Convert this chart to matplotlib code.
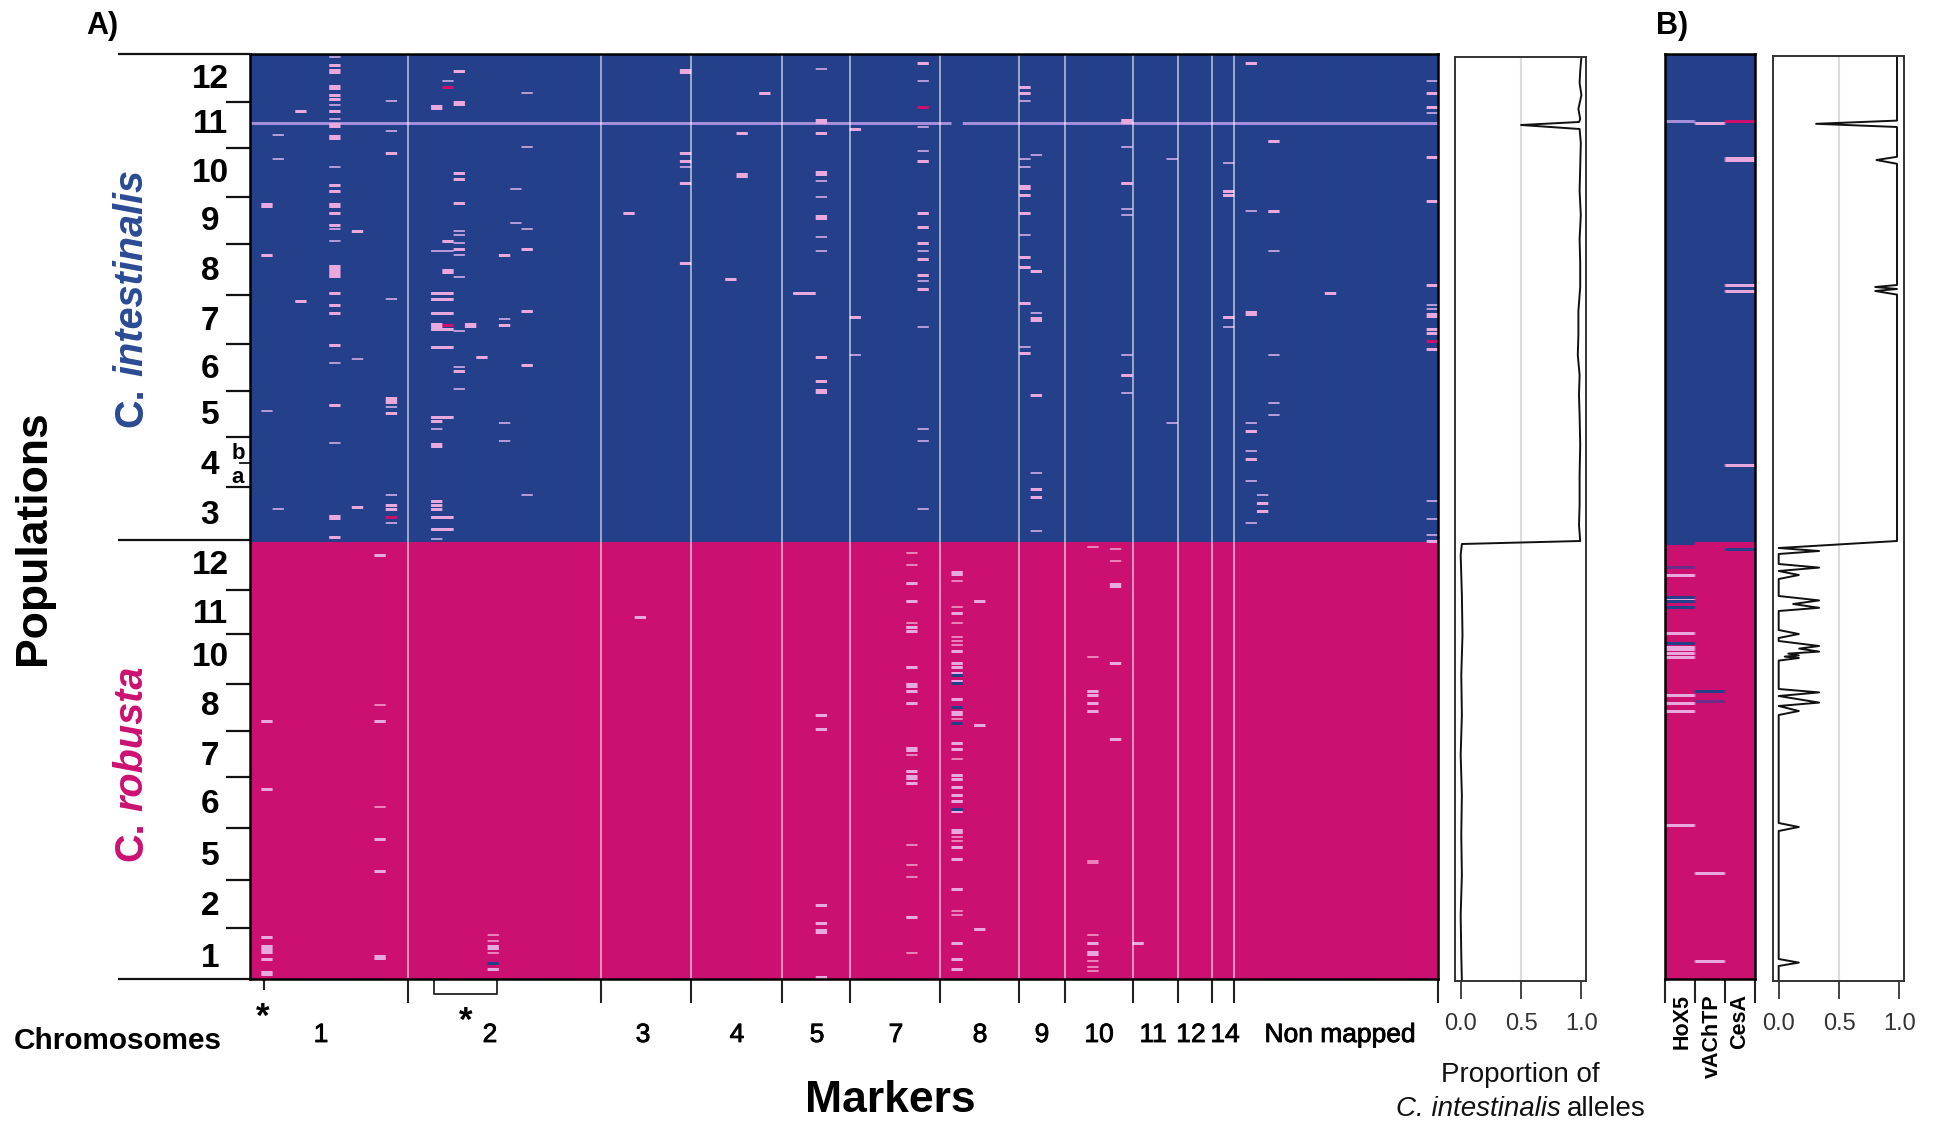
import numpy as np
import matplotlib
matplotlib.use('Agg')
import matplotlib.pyplot as plt
import matplotlib.patheffects as pe
from matplotlib.colors import ListedColormap
from matplotlib.transforms import blended_transform_factory

plt.rcParams['font.family'] = ['Liberation Sans', 'DejaVu Sans']

W, H = 1936, 1121
N_ROWS = 463
N_COLS = 105
BOUNDARY = 244

# row numbers of the individuals (0 = top), keyed by marker column
het_thin = {
    1: [178], 2: [40, 52, 227], 7: [1, 25, 32, 56, 87, 93, 154, 194], 9: [152],
    12: [23, 38, 122, 176, 220, 234], 16: [98, 187, 242], 17: [13, 98],
    18: [88, 90, 94, 100, 111, 138, 156, 167], 22: [132, 184, 193], 23: [67, 84],
    24: [19, 46, 87, 220], 38: [56], 50: [7, 63, 71, 91, 98], 53: [150],
    59: [13, 36, 48, 98, 113, 136, 187, 193, 227], 68: [23, 52, 56, 90, 146],
    69: [50, 129, 209, 238], 77: [46, 77, 80, 150, 169], 81: [52, 184],
    86: [54, 136], 88: [78, 184, 198, 213, 234], 89: [220], 90: [98, 150, 174, 180],
    104: [13, 29, 125, 127, 223, 232, 240],
    11: [325, 376], 21: [440, 443, 449], 58: [249, 255, 284, 350, 395, 405, 411, 449],
    62: [263, 276, 284, 291, 293, 295, 332, 352, 391, 393, 428, 430],
    74: [246, 301, 403, 404, 440, 453, 456, 458], 76: [247, 253],
}
het_mid = {
    1: [100, 333, 367, 441, 452], 4: [28, 123],
    7: [5, 20, 22, 28, 65, 68, 79, 85, 119, 125, 129, 145, 175, 241],
    9: [88, 226], 12: [49, 179, 225, 227], 16: [119, 122, 129, 135, 137, 146, 181, 183, 223, 225, 227, 231, 237],
    17: [93, 119, 122, 129, 137, 146, 181, 231, 237], 18: [8, 59, 62, 74, 97, 158],
    20: [151], 22: [100, 135], 24: [97, 128, 155], 33: [79],
    38: [49, 53, 64, 104], 42: [112], 43: [39], 45: [19], 48: [119], 49: [119],
    50: [39, 151, 163, 330, 337, 425, 434, 461], 53: [37, 131],
    59: [4, 53, 79, 86, 94, 102, 110, 117], 68: [16, 19, 70, 79, 101, 106, 124, 149],
    69: [108, 170, 217, 221], 77: [64, 160], 86: [68, 70, 131], 88: [4, 188, 202],
    89: [224, 228], 90: [43, 78], 95: [119], 104: [19, 26, 51, 73, 115, 137, 139, 147, 243],
    11: [250, 333, 392, 408], 21: [457], 34: [281],
    58: [264, 273, 286, 288, 306, 318, 324, 358, 361, 364, 431],
    62: [279, 298, 304, 306, 309, 313, 322, 344, 347, 360, 362, 366, 370, 373, 378, 396, 402, 417, 444, 452, 457],
    64: [273, 335, 437], 74: [318, 320, 324, 328, 444], 76: [304, 342], 78: [444],
}
het_wide = {
    1: [75, 446, 448, 459], 7: [8, 16, 35, 41, 75, 106, 108, 110, 231],
    12: [172, 173], 16: [26, 135, 195], 17: [108], 18: [24], 19: [135],
    38: [8], 43: [60], 50: [33, 59, 81, 168, 438], 68: [66],
    69: [132], 77: [33], 88: [129], 104: [130],
    11: [451], 21: [446], 58: [315, 347, 361], 62: [259, 329, 388], 74: [449], 76: [265],
}
wrong_magenta = {12: [231], 17: [135, 16], 59: [26], 104: [143]}
wrong_blue = {21: [454], 62: [310, 314, 326, 334, 377]}
cross_row = 34
cross_gap_cols = [62]

chrom_bounds = [14, 31, 39, 47, 53, 61, 68, 72, 78, 82, 85, 87, 105]
chrom_names = ['1', '2', '3', '4', '5', '7', '8', '9', '10', '11', '12', '14', 'Non mapped']
chrom_label_px = [321, 490, 643, 737, 817, 896, 980, 1042, 1099, 1153, 1191, 1225, 1340]

pop_ticks = [23.5, 46.5, 71, 94.5, 120, 144.5, 168, 191, 216,
             268, 290, 314.7, 338.5, 361.5, 387, 413, 437]
species_ticks = [-0.5, 242.6, 462.5]
pop_names = ['12', '11', '10', '9', '8', '7', '6', '5', '4', '3',
             '12', '11', '10', '8', '7', '6', '5', '2', '1']
pop_centres = [12.2, 35, 59.1, 83.3, 108.6, 133.3, 157.3, 180.6, 205.6, 230.3,
               255.7, 280.2, 301.5, 326, 351.1, 375, 401.3, 426.3, 452.3]

# proportion of intestinalis alleles, all mapped markers
prop_a_rows = [1, 8, 14, 20, 27, 32, 33.5, 35, 37, 44, 56, 68, 80, 92, 104, 116, 128, 140, 150,
               160, 170, 180, 195, 210, 225, 235, 243, 244.5, 250, 270, 290, 310, 330, 350,
               370, 390, 410, 430, 450, 463]
prop_a_vals = [1.0, 0.99, 0.985, 1.0, 0.975, 0.99, 0.98, 0.5, 0.985, 0.995, 0.99, 0.985, 0.995, 0.985,
               0.99, 0.99, 0.975, 0.975, 0.97, 0.985, 0.98, 0.985, 0.99, 0.985, 0.985, 0.98, 0.99,
               0.01, 0.0, 0.01, 0.015, 0.005, 0.01, 0.0, 0.01, 0.005, 0.01, 0.0, 0.005, 0.01]

# proportion, three candidate genes
prop_b_rows = [1, 32.8, 34.4, 36, 50.9, 52.5, 54.4, 115, 116, 117, 118, 119.8, 243, 246.5, 248, 249.5,
               254.5, 256.3, 258, 260, 262, 270.5, 272.7, 274.5, 276.4, 278, 287.5, 289.5, 291.5,
               293, 295.5, 296.8, 298.3, 299.3, 300.2, 300.8, 301.5, 302.8, 317, 318.7, 320.5, 323.8,
               325.5, 328, 330, 384, 386, 388, 452, 453.8, 455.5, 463]
prop_b_vals = [0.98, 0.98, 0.31, 0.98, 0.98, 0.81, 0.98, 0.98, 0.8, 0.98, 0.8, 0.98, 0.98, 0.0, 0.335, 0.0,
               0.0, 0.335, 0.0, 0.167, 0.0, 0.0, 0.335, 0.12, 0.335, 0.0, 0.0, 0.167, 0.0,
               0.0, 0.335, 0.17, 0.335, 0.08, 0.167, 0.05, 0.167, 0.0, 0.0, 0.335, 0.0, 0.335,
               0.0, 0.167, 0.0, 0.0, 0.167, 0.0, 0.0, 0.167, 0.0, 0.0]

gene_names = ['HoX5', 'vAChTP', 'CesA']
gene_het = {0: [260, 272, 289, 296, 297, 299, 301, 320, 324, 328, 385], 1: [34, 409, 453], 2: [115, 118, 205]}
gene_wide = {2: [52]}
gene_blue = {0: [244, 271, 273, 276, 294], 1: [318], 2: [247]}
gene_purple = {0: [33, 256], 1: [323], 2: []}
gene_magenta = {2: [33]}

BLUE = '#25408a'
MAGENTA = '#cc1071'
palette = [BLUE, MAGENTA, '#e9a9df', '#b49ad8', '#ea80bc', '#6d2c8c', '#a58fdc']


def ax_px(left, top, right, bottom):
    return fig.add_axes([left / W, 1 - bottom / H, (right - left) / W, (bottom - top) / H])


def px_text(x, y, s, **kw):
    return fig.text(x / W, 1 - y / H, s, **kw)


def base_matrix(n_cols):
    # two image lines per individual so thin and wide marks can differ
    m = np.zeros((N_ROWS * 2, n_cols), dtype=int)
    m[BOUNDARY * 2:, :] = 1
    return m


def stamp(m, row, col, value, size):
    start = 2 * row + 1 - size // 2
    m[start:start + size, col] = value


def show_matrix(ax, m):
    # repeat the columns so the soft blur only acts along the rows
    big = np.repeat(m, 10, axis=1)
    ax.imshow(big, cmap=ListedColormap(palette), vmin=-0.5, vmax=len(palette) - 0.5, aspect='auto',
              extent=(0, m.shape[1], N_ROWS, 0), interpolation='bilinear', interpolation_stage='rgba')
    ax.set_xlim(0, m.shape[1])
    ax.set_ylim(462.5, 0)
    for s in ax.spines.values():
        s.set_linewidth(1.8)
        s.set_color('black')


fig = plt.figure(figsize=(W / 100, H / 100), dpi=100)
fig.patch.set_facecolor('white')

# main matrix
ax = ax_px(250, 54, 1438, 979)
mat = base_matrix(N_COLS)
for c in range(N_COLS):
    if c not in cross_gap_cols:
        stamp(mat, cross_row, c, 6, 3)
for c, rows in het_thin.items():
    for r in rows:
        stamp(mat, r, c, 3 if r < BOUNDARY else 4, 2)
for c, rows in het_mid.items():
    for r in rows:
        stamp(mat, r, c, 2, 3)
for c, rows in het_wide.items():
    for r in rows:
        stamp(mat, r, c, 2, 5)
for c, rows in wrong_magenta.items():
    for r in rows:
        stamp(mat, r, c, 1, 3)
for c, rows in wrong_blue.items():
    for r in rows:
        stamp(mat, r, c, 0, 3)
show_matrix(ax, mat)

ax.vlines(chrom_bounds[:-1], 0, 462.5, color='white', alpha=0.55, lw=1.4)

ax.set_xticks(chrom_bounds)
ax.set_xticklabels([])
ax.set_xticks([1.2], minor=True)
ax.tick_params(axis='x', which='major', length=17, width=1.5, color='#222222')
ax.tick_params(axis='x', which='minor', length=8, width=1.5, color='#222222')
ax.set_yticks(pop_ticks)
ax.set_yticklabels([])
ax.set_yticks(species_ticks, minor=True)
ax.tick_params(axis='y', which='major', length=17, width=1.6, color='#111111')
ax.tick_params(axis='y', which='minor', length=95, width=1.6, color='#111111')

trans_y = blended_transform_factory(ax.transAxes, ax.transData)
for name, row in zip(pop_names, pop_centres):
    ax.text(-40 / 1188, row, name, transform=trans_y, ha='center', va='center',
            fontsize=24, fontweight='bold', color='black')
ax.plot([-10 / 1188, 0], [204, 204], transform=trans_y, color='#111111', lw=1.3, clip_on=False)
ax.text(-12 / 1188, 199.5, 'b', transform=trans_y, ha='center', va='center', fontsize=16, fontweight='bold')
ax.text(-12 / 1188, 211.5, 'a', transform=trans_y, ha='center', va='center', fontsize=16, fontweight='bold')

# bracket and stars under the matrix
ax.plot([16.3, 16.3, 21.8, 21.8], [462.5, 470, 470, 462.5], color='#222222', lw=1.3, clip_on=False)
ax.text(1.1, 481.5, '*', ha='center', va='center', fontsize=25, fontweight='bold', clip_on=False)
ax.text(19.1, 483.5, '*', ha='center', va='center', fontsize=25, fontweight='bold', clip_on=False)

for name, x in zip(chrom_names, chrom_label_px):
    px_text(x, 1035, name, ha='center', va='center', fontsize=19,
            path_effects=[pe.withStroke(linewidth=0.6, foreground='black')])

# proportion panel A
ax2 = ax_px(1455, 57, 1586, 981)
ax2.axvline(0.5, color='#dcdcdc', lw=1.6, zorder=0)
ax2.plot(prop_a_vals, prop_a_rows, color='#111111', lw=1.4)
ax2.set_xlim(-0.047, 1.038)
ax2.set_ylim(463, 1)

# candidate gene matrix
ax3 = ax_px(1665, 54, 1755, 979)
gmat = base_matrix(3)
for c, rows in gene_het.items():
    for r in rows:
        stamp(gmat, r, c, 2, 3)
for c, rows in gene_wide.items():
    for r in rows:
        stamp(gmat, r, c, 2, 5)
for c, rows in gene_blue.items():
    for r in rows:
        stamp(gmat, r, c, 0, 3)
for c, rows in gene_purple.items():
    for r in rows:
        stamp(gmat, r, c, 5 if r >= BOUNDARY else 6, 3)
for c, rows in gene_magenta.items():
    for r in rows:
        stamp(gmat, r, c, 1, 3)
show_matrix(ax3, gmat)
ax3.set_xticks([0, 1, 2, 3])
ax3.set_xticklabels([])
ax3.set_yticks([])
ax3.tick_params(axis='x', length=17, width=1.5, color='#222222')
for name, x in zip(gene_names, [1682, 1712, 1740]):
    px_text(x, 994, name, rotation=90, ha='center', va='top', fontsize=15.5, fontweight='bold')

# proportion panel B
ax4 = ax_px(1773, 56, 1904, 981)
ax4.axvline(0.5, color='#dcdcdc', lw=1.6, zorder=0)
ax4.plot(prop_b_vals, prop_b_rows, color='#111111', lw=1.4)
ax4.set_xlim(-0.047, 1.038)
ax4.set_ylim(463, 0.5)

for a in (ax2, ax4):
    a.set_xticks([0.0, 0.5, 1.0])
    a.set_xticklabels(['0.0', '0.5', '1.0'], fontsize=17, color='#333333')
    a.set_yticks([])
    a.tick_params(axis='x', length=13, width=1.2, color='#222222', pad=10)
    for s in a.spines.values():
        s.set_linewidth(1.4)
        s.set_color('#333333')

# species, axis titles and panel letters
BLUE_TXT = '#2a4a94'
px_text(131, 273, 'intestinalis', rotation=90, ha='center', va='center', fontsize=28.5,
        fontweight='bold', style='italic', color=BLUE_TXT)
px_text(131, 407, 'C.', rotation=90, ha='center', va='center', fontsize=28.5, fontweight='bold', color=BLUE_TXT)
px_text(131, 738, 'robusta', rotation=90, ha='center', va='center', fontsize=28.5,
        fontweight='bold', style='italic', color=MAGENTA)
px_text(131, 841, 'C.', rotation=90, ha='center', va='center', fontsize=28.5, fontweight='bold', color=MAGENTA)

px_text(34, 538, 'Populations', rotation=90, ha='center', va='center', fontsize=32, fontweight='bold')
px_text(890, 1101, 'Markers', ha='center', va='center', fontsize=32, fontweight='bold')
px_text(14, 1041, 'Chromosomes', ha='left', va='center', fontsize=21.4, fontweight='bold')
px_text(86, 26, 'A)', ha='left', va='center', fontsize=22, fontweight='bold')
px_text(1656, 26, 'B)', ha='left', va='center', fontsize=22, fontweight='bold')

px_text(1520, 1075, 'Proportion of', ha='center', va='center', fontsize=20, color='#111111')
px_text(1561, 1109, 'C. intestinalis', ha='right', va='center', fontsize=20, style='italic', color='#111111')
px_text(1567, 1109, 'alleles', ha='left', va='center', fontsize=20, color='#111111')

fig.savefig('out.png', dpi=100)
